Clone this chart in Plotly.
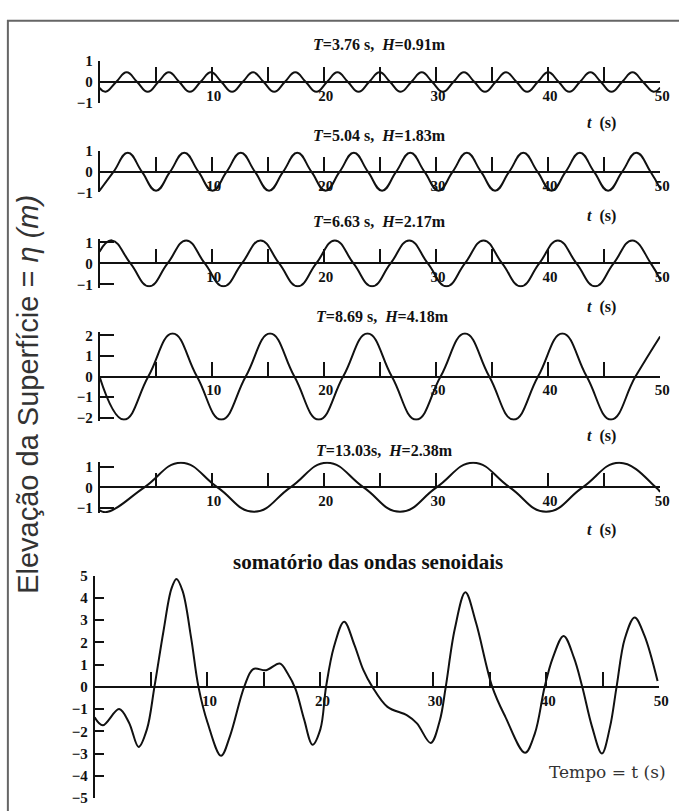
import plotly.graph_objects as go

# ---------------- data ----------------
wave_titles = ["T=3.76 s, H=0.91m", "T=5.04 s, H=1.83m", "T=6.63 s, H=2.17m",
               "T=8.69 s, H=4.18m", "T=13.03s, H=2.38m"]

t1 = [0, 0.54, 1.48, 2.42, 3.36, 4.30, 5.24, 6.18, 7.12, 8.06, 9.00, 9.94, 10.88, 11.82,
      12.76, 13.70, 14.64, 15.58, 16.52, 17.46, 18.40, 19.34, 20.28, 21.22, 22.16, 23.10,
      24.04, 24.98, 25.92, 26.86, 27.80, 28.74, 29.68, 30.62, 31.56, 32.50, 33.44, 34.38,
      35.32, 36.26, 37.20, 38.14, 39.08, 40.02, 40.96, 41.90, 42.84, 43.78, 44.72, 45.66,
      46.60, 47.54, 48.48, 49.42, 50]
eta1 = [-0.28, -0.46, 0, 0.46, 0, -0.46, 0, 0.46, 0, -0.46, 0, 0.46, 0, -0.46,
        0, 0.46, 0, -0.46, 0, 0.46, 0, -0.46, 0, 0.46, 0, -0.46,
        0, 0.46, 0, -0.46, 0, 0.46, 0, -0.46, 0, 0.46, 0, -0.46,
        0, 0.46, 0, -0.46, 0, 0.46, 0, -0.46, 0, 0.46, 0, -0.46,
        0, 0.46, 0, -0.46, -0.26]

t2 = [0, 1.26, 2.52, 3.78, 5.04, 6.30, 7.56, 8.82, 10.08, 11.34, 12.60, 13.86, 15.12,
      16.38, 17.64, 18.90, 20.16, 21.42, 22.68, 23.94, 25.20, 26.46, 27.72, 28.98, 30.24,
      31.50, 32.76, 34.02, 35.28, 36.54, 37.80, 39.06, 40.32, 41.58, 42.84, 44.10, 45.36,
      46.62, 47.88, 49.14, 50]
eta2 = [-0.92, 0, 0.92, 0, -0.92, 0, 0.92, 0, -0.92, 0, 0.92, 0, -0.92,
        0, 0.92, 0, -0.92, 0, 0.92, 0, -0.92, 0, 0.92, 0, -0.92,
        0, 0.92, 0, -0.92, 0, 0.92, 0, -0.92, 0, 0.92, 0, -0.92,
        0, 0.92, 0, -0.81]

t3 = [0, 1.10, 2.76, 4.42, 6.07, 7.73, 9.39, 11.05, 12.70, 14.36, 16.02, 17.68, 19.33,
      20.99, 22.65, 24.31, 25.96, 27.62, 29.28, 30.94, 32.59, 34.25, 35.91, 37.57, 39.22,
      40.88, 42.54, 44.20, 45.85, 47.51, 49.17, 50]
eta3 = [0.55, 1.09, 0, -1.09, 0, 1.09, 0, -1.09, 0, 1.09, 0, -1.09, 0,
        1.09, 0, -1.09, 0, 1.09, 0, -1.09, 0, 1.09, 0, -1.09, 0,
        1.09, 0, -1.09, 0, 1.09, 0, -0.77]

t4 = [0, 2.17, 4.35, 6.52, 8.69, 10.86, 13.04, 15.21, 17.38, 19.55, 21.73, 23.90, 26.07,
      28.24, 30.42, 32.59, 34.76, 36.93, 39.11, 41.28, 43.45, 45.62, 47.80, 50]
eta4 = [0, -2.09, 0, 2.09, 0, -2.09, 0, 2.09, 0, -2.09, 0, 2.09, 0,
        -2.09, 0, 2.09, 0, -2.09, 0, 2.09, 0, -2.09, 0, 1.95]

t5 = [0, 0.74, 4.00, 7.26, 10.52, 13.77, 17.03, 20.29, 23.55, 26.80, 30.06, 33.32, 36.58,
      39.83, 43.09, 46.35, 49.61, 50]
eta5 = [-1.12, -1.19, 0, 1.19, 0, -1.19, 0, 1.19, 0, -1.19, 0, 1.19, 0,
        -1.19, 0, 1.19, 0, -0.22]

t_sum = [0, 0.72, 2.17, 3.04, 3.9, 4.64, 5.3, 6.1, 6.8, 7.25, 7.8, 8.55, 9.2, 10.0, 11.2,
         12.0, 13.25, 14.05, 15.2, 16.4, 17.1, 17.8, 18.55, 19.3, 20.0, 20.5, 21.2, 22.1,
         23.0, 23.8, 24.6, 25.94, 27.68, 28.55, 29.77, 30.58, 31.1, 31.9, 32.84, 33.77,
         35.22, 36.38, 38.12, 38.99, 39.86, 40.58, 41.54, 42.46, 43.19, 44.06, 44.93,
         45.65, 46.23, 46.96, 47.83, 48.7, 49.86]
eta_sum = [-1.37, -1.73, -1.0, -1.6, -2.7, -1.9, 0, 2.5, 4.4, 4.85, 4.3, 2.2, 0, -1.6, -3.1,
           -2.2, 0, 0.8, 0.75, 1.05, 0.6, -0.1, -1.45, -2.6, -1.9, 0, 1.8, 2.93,
           1.9, 0.76, 0, -0.9, -1.28, -1.64, -2.52, -1.5, 0, 2.6, 4.25, 2.9,
           0, -1.35, -2.96, -2.1, 0, 1.3, 2.29, 1.3, 0, -1.8, -3.0,
           -1.8, 0, 2.17, 3.12, 2.3, 0.26]

x_ticks = [5, 10, 15, 20, 25, 30, 35, 40, 45, 50]
x_ticktext = ["", "10", "", "20", "", "30", "", "40", "", "50"]
y_ticks_small = [-1, 0, 1]
y_ticks_mid = [-2, -1, 0, 1, 2]
y_ticks_sum = [-5, -4, -3, -2, -1, 0, 1, 2, 3, 4, 5]

# ---------------- layout helpers ----------------
W, H = 679, 811
def px(x): return x / W
def py(y): return 1 - y / H

INK = "#111111"
SERIF = "Liberation Serif"

# (t, eta, y ticks, (top val, top px), (bottom val, bottom px), range, x px span, y ticklen, smoothing)
panels = [
    (t1, eta1, y_ticks_small, (1, 54), (-1, 97), [-1, 1], (101, 670), 15, 1.3),
    (t2, eta2, y_ticks_small, (1, 146), (-1, 188), [-1, 1], (101, 670), 15, 1.3),
    (t3, eta3, y_ticks_small, (1, 239), (-1, 282), [-1.15, 1.15], (101, 670), 15, 1.3),
    (t4, eta4, y_ticks_mid, (2, 334), (-2, 418), [-2.15, 2.15], (101, 670), 15, 1.3),
    (t5, eta5, y_ticks_small, (1, 468), (-1, 510), [-1.25, 1.25], (101, 670), 15, 1.3),
    (t_sum, eta_sum, y_ticks_sum, (5, 579), (-5, 806), [-5, 5], (96, 669), 10, 1.0),
]

fig = go.Figure()
layout = dict(width=W, height=H, margin=dict(l=0, r=0, t=0, b=0),
              paper_bgcolor="white", plot_bgcolor="rgba(0,0,0,0)", showlegend=False)

for i, (tt, ee, yt, (tv, tp), (bv, bp), rng, (x0, x1), ylen, smooth) in enumerate(panels, start=1):
    ppu = (bp - tp) / (tv - bv)
    zero_px = tp + tv * ppu
    top_px = zero_px - rng[1] * ppu
    bot_px = zero_px - rng[0] * ppu
    sfx = "" if i == 1 else str(i)
    fig.add_trace(go.Scatter(x=tt, y=ee, mode="lines", xaxis="x" + sfx, yaxis="y" + sfx,
                             line=dict(color=INK, width=2, shape="spline", smoothing=smooth),
                             hoverinfo="skip"))
    layout["xaxis" + sfx] = dict(
        domain=[px(x0), px(x1)], range=[0, 50], anchor="free", position=py(zero_px),
        showline=True, linecolor=INK, linewidth=1.6, ticks="inside", ticklen=14,
        tickwidth=1.6, tickcolor=INK, tickvals=x_ticks, ticktext=x_ticktext,
        tickfont=dict(family=SERIF, size=15, color=INK, weight="bold"),
        showgrid=False, zeroline=False, ticklabelshift=2, ticklabelstandoff=0,
        ticklabeloverflow="allow")
    layout["yaxis" + sfx] = dict(
        domain=[py(bot_px), py(top_px)], range=rng, anchor="x" + sfx,
        showline=True, linecolor=INK, linewidth=1.6, ticks="inside", ticklen=ylen,
        tickwidth=1.6, tickcolor=INK, tickvals=yt,
        tickfont=dict(family=SERIF, size=15, color=INK, weight="bold"),
        showgrid=False, zeroline=False, ticklabelstandoff=2, ticklabeloverflow="allow")

annotations = []
title_pos = [(385, 37), (385, 130), (385, 218), (388, 315), (390, 451)]
for txt, (x, y) in zip(wave_titles, title_pos):
    t_part, h_part = txt.split(", ")
    html = "<i>T</i>" + t_part[1:] + ",  <i>H</i>" + h_part[1:]
    annotations.append(dict(text="<b>" + html + "</b>", x=px(x), y=py(y), xref="paper",
                            yref="paper", showarrow=False, xanchor="center", yanchor="middle",
                            font=dict(family=SERIF, size=16, color=INK)))

for (x, y) in [(610, 117), (610, 212), (610, 305), (610, 437), (610, 532)]:
    annotations.append(dict(text="<b><i>t</i>  (s)</b>", x=px(x), y=py(y), xref="paper",
                            yref="paper", showarrow=False, xanchor="center", yanchor="middle",
                            font=dict(family=SERIF, size=16, color=INK)))

annotations.append(dict(text="<b>somatório das ondas senoidais</b>", x=px(373), y=py(565),
                        xref="paper", yref="paper", showarrow=False, xanchor="center",
                        yanchor="middle", font=dict(family=SERIF, size=21, color=INK)))
annotations.append(dict(text="Tempo = t (s)", x=px(617), y=py(779), xref="paper", yref="paper",
                        showarrow=False, xanchor="center", yanchor="middle",
                        font=dict(family="DejaVu Serif", size=17, color="#333333")))
annotations.append(dict(text="Elevação da Superfície = <i>η (m)</i>", x=px(29), y=py(394),
                        xref="paper", yref="paper", showarrow=False, textangle=-90,
                        xanchor="center", yanchor="middle",
                        font=dict(family="Liberation Sans", size=29, color="#333333")))
layout["annotations"] = annotations

layout["shapes"] = [dict(type="rect", xref="paper", yref="paper", x0=px(8), x1=1.02,
                         y0=-0.02, y1=py(13), line=dict(color="#666666", width=2),
                         fillcolor="rgba(0,0,0,0)", layer="below")]

fig.update_layout(**layout)
fig.write_html("out.html", config={"displayModeBar": False},
               post_script="document.body.style.margin='0';document.body.style.overflow='hidden';")
